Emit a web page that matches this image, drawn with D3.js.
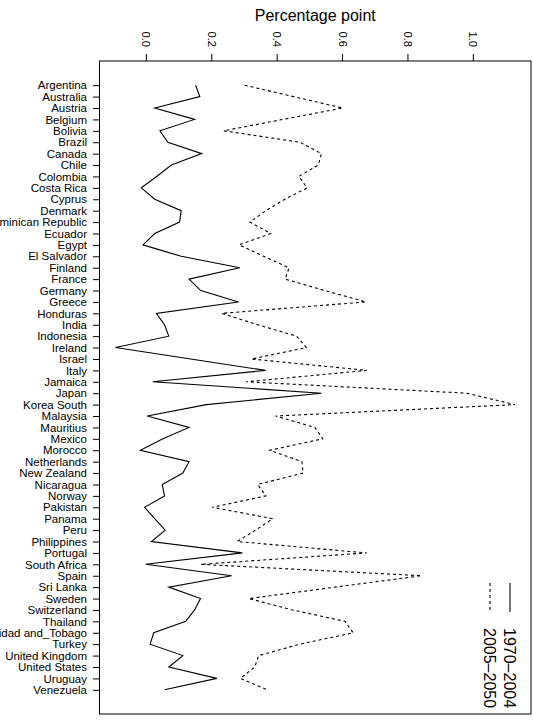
<!DOCTYPE html>
<html>
<head>
<meta charset="utf-8">
<script src="https://cdn.jsdelivr.net/npm/d3@7"></script>
<style>
    body { margin: 0; background: #fff; }
    svg { display: block; font-family: 'Liberation Sans', Arial, sans-serif; }
</style>
</head>
<body>
<svg id="chart" width="533" height="720"></svg>
<script>
const countries = [
    'Argentina', 'Australia', 'Austria', 'Belgium', 'Bolivia', 'Brazil',
    'Canada', 'Chile', 'Colombia', 'Costa Rica', 'Cyprus', 'Denmark',
    'Dominican Republic', 'Ecuador', 'Egypt', 'El Salvador', 'Finland',
    'France', 'Germany', 'Greece', 'Honduras', 'India', 'Indonesia',
    'Ireland', 'Israel', 'Italy', 'Jamaica', 'Japan', 'Korea South',
    'Malaysia', 'Mauritius', 'Mexico', 'Morocco', 'Netherlands',
    'New Zealand', 'Nicaragua', 'Norway', 'Pakistan', 'Panama', 'Peru',
    'Philippines', 'Portugal', 'South Africa', 'Spain', 'Sri Lanka',
    'Sweden', 'Switzerland', 'Thailand', 'Trinidad and_Tobago', 'Turkey',
    'United Kingdom', 'United States', 'Uruguay', 'Venezuela',
];

// 1970-2004 (solid)
const past = [
    0.152, 0.165, 0.027, 0.149, 0.043, 0.067, 0.171, 0.078, 0.033, -0.014,
    0.027, 0.108, 0.103, 0.027, -0.009, 0.108, 0.287, 0.132, 0.168, 0.283,
    0.032, 0.057, 0.070, -0.093, 0.137, 0.366, 0.021, 0.537, 0.185, 0.004,
    0.132, 0.052, -0.017, 0.132, 0.113, 0.050, 0.057, -0.004, 0.027, 0.059,
    0.017, 0.295, -0.001, 0.262, 0.070, 0.167, 0.149, 0.122, 0.024, 0.013,
    0.113, 0.070, 0.217, 0.057,
];

// 2005-2050 (dashed)
const future = [
    0.302, 0.451, 0.602, 0.419, 0.238, 0.471, 0.537, 0.527, 0.468, 0.493,
    0.425, 0.367, 0.318, 0.382, 0.285, 0.360, 0.438, 0.426, 0.547, 0.673,
    0.232, 0.342, 0.461, 0.491, 0.323, 0.675, 0.307, 0.981, 1.129, 0.397,
    0.517, 0.541, 0.379, 0.477, 0.481, 0.342, 0.367, 0.203, 0.388, 0.336,
    0.279, 0.675, 0.168, 0.843, 0.578, 0.315, 0.449, 0.609, 0.634, 0.471,
    0.345, 0.333, 0.289, 0.371,
];

const xTicks = [0, 0.2, 0.4, 0.6, 0.8, 1.0];
const seriesNames = ['1970\u20132004', '2005\u20132050'];
const seriesDash = [null, '3,3'];

const svg = d3.select('#chart');
const box = { left: 99.5, right: 531, top: 61, bottom: 714 };

// R style: pad the data range by 4% each side
const [lo, hi] = d3.extent(past.concat(future));
const pad = (hi - lo) * 0.04;

const x = d3.scaleLinear()
    .domain([lo - pad, hi + pad])
    .range([box.left, box.right]);

const y = d3.scalePoint()
    .domain(countries)
    .range([box.top, box.bottom])
    .padding(2.12);

// title
svg.append('text')
    .attr('x', (box.left + box.right) / 2)
    .attr('y', 21)
    .attr('text-anchor', 'middle')
    .style('font-size', '16px')
    .text('Percentage point');

// top axis, labels turned to read downward
const topAxis = svg.append('g')
    .attr('transform', `translate(0,${box.top})`)
    .attr('font-family', null)
    .call(d3.axisTop(x).tickValues(xTicks).tickSize(7).tickFormat(d3.format('.1f')));
topAxis.select('.domain').remove();
topAxis.selectAll('text')
    .attr('x', -14)
    .attr('y', 0)
    .attr('dy', '0.35em')
    .attr('transform', 'rotate(90)')
    .style('text-anchor', 'end')
    .style('font-size', '11.2px');

const leftAxis = svg.append('g')
    .attr('transform', `translate(${box.left},0)`)
    .call(d3.axisLeft(y).tickSize(6.5).tickPadding(6));
leftAxis.select('.domain').remove();
leftAxis.selectAll('text')
    .style('font-size', '11.5px');
topAxis.attr('font-family', null);
leftAxis.attr('font-family', null);

// frame
svg.append('rect')
    .attr('x', box.left)
    .attr('y', box.top)
    .attr('width', box.right - box.left)
    .attr('height', box.bottom - box.top)
    .attr('fill', 'none')
    .attr('stroke', '#000');

const line = d3.line()
    .x((d) => x(d))
    .y((d, i) => y(countries[i]));

[past, future].forEach((series, k) => {
    svg.append('path')
        .datum(series)
        .attr('d', line)
        .attr('fill', 'none')
        .attr('stroke', '#000')
        .attr('stroke-width', 1.1)
        .attr('stroke-dasharray', seriesDash[k]);
});

// legend, rotated like the rest of the plot
seriesNames.forEach((name, k) => {
    const lx = 510 - k * 20;
    svg.append('line')
        .attr('x1', lx).attr('x2', lx)
        .attr('y1', 583).attr('y2', 612)
        .attr('stroke', '#000')
        .attr('stroke-width', 1.1)
        .attr('stroke-dasharray', seriesDash[k]);
    svg.append('text')
        .attr('transform', `translate(${lx},628) rotate(90)`)
        .attr('dy', '0.35em')
        .style('font-size', '16px')
        .text(name);
});
</script>
</body>
</html>
